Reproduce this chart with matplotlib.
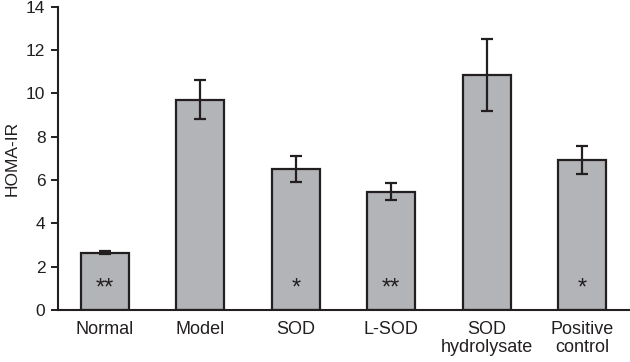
import matplotlib.pyplot as plt

plt.rcParams['font.family'] = ['Liberation Sans', 'DejaVu Sans']

groups = ['Normal', 'Model', 'SOD', 'L-SOD', 'SOD\nhydrolysate', 'Positive\ncontrol']
homa_ir = [2.65, 9.72, 6.52, 5.45, 10.85, 6.92]
err = [0.07, 0.88, 0.60, 0.39, 1.68, 0.66]
stars = ['**', '', '*', '**', '', '*']

dark = '#231f20'

fig = plt.figure(figsize=(6.3, 3.62), dpi=100)
ax = fig.add_axes([0.092, 0.144, 0.908, 0.837])

x = range(len(groups))
ax.bar(x, homa_ir, width=0.5, color='#b3b4b7', edgecolor=dark, linewidth=1.6, zorder=2)
ax.errorbar(x, homa_ir, yerr=err, fmt='none', ecolor=dark, elinewidth=1.6,
            capsize=4, capthick=1.6, zorder=3)

for i, s in enumerate(stars):
    if s:
        ax.text(i, 0.5, s, ha='center', va='bottom', fontsize=17, color=dark)

ax.set_xlim(-0.49, 5.5)
ax.set_ylim(0, 14)
ax.set_yticks(range(0, 15, 2))
ax.set_xticks(list(x))
ax.set_xticklabels(groups, fontsize=13, color=dark, linespacing=1.05)
ax.tick_params(axis='x', length=0, pad=8)
ax.tick_params(axis='y', direction='out', length=5, width=1.4, labelsize=12.5,
               colors=dark, pad=4)
ax.set_ylabel('HOMA-IR', fontsize=12.5, color=dark, labelpad=5)

for side in ['top', 'right']:
    ax.spines[side].set_visible(False)
for side in ['left', 'bottom']:
    ax.spines[side].set_linewidth(1.5)
    ax.spines[side].set_color(dark)

fig.savefig('out.png', dpi=100)
